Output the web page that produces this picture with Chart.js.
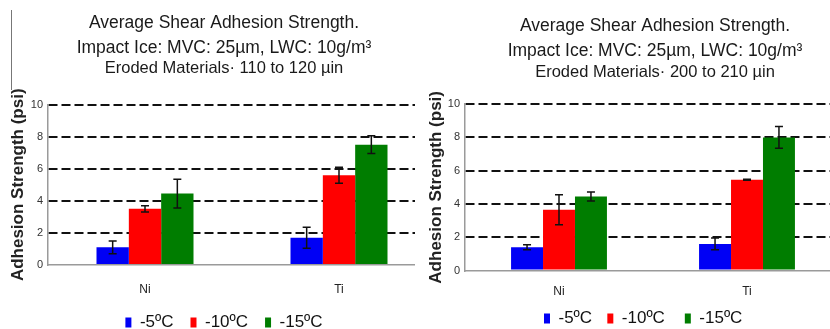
<!DOCTYPE html>
<html><head><meta charset="utf-8">
<script src="https://cdn.jsdelivr.net/npm/chart.js@4.4.0/dist/chart.umd.min.js"></script>
<style>
html,body{margin:0;padding:0;background:#fff;width:830px;height:329px;overflow:hidden;}
.panel{position:absolute;top:0;height:329px;overflow:hidden;}
#pl{left:0;width:415px;}
#pr{left:415px;width:415px;}
#mark{position:absolute;left:11px;top:10px;width:0;height:80px;border-left:1.5px solid #777;}
</style></head><body>
<div id="pl" class="panel"><canvas id="cl"></canvas></div>
<div id="pr" class="panel"><canvas id="cr"></canvas></div>
<div id="mark"></div>
<script>
// ---- data ----
const categories = ['Ni', 'Ti'];
const seriesLabels = ['-5ºC', '-10ºC', '-15ºC'];
const yTicks = [0, 2, 4, 6, 8, 10];
const titleLines = ['Average Shear Adhesion Strength.', 'Impact Ice: MVC: 25µm, LWC: 10g/m³'];
const leftSubtitle = 'Eroded Materials· 110 to 120 µin';
const rightSubtitle = 'Eroded Materials· 200 to 210 µin';
const yAxisTitle = 'Adhesion Strength (psi)';

// left panel: 110 to 120 µin
const left5 = [1.1, 1.7];
const left10 = [3.5, 5.6];
const left15 = [4.45, 7.5];
const left5Err = [0.4, 0.65];
const left10Err = [0.2, 0.5];
const left15Err = [0.9, 0.55];

// right panel: 200 to 210 µin
const right5 = [1.4, 1.6];
const right10 = [3.65, 5.45];
const right15 = [4.45, 8.0];
const right5Err = [0.15, 0.35];
const right10Err = [0.9, 0.03];
const right15Err = [0.27, 0.65];

const colors = ['#0000f5', '#ff0000', '#007d00'];
const FONT = "'Liberation Sans', Arial, sans-serif";

const errorBars = {
  id: 'errorBars',
  afterDatasetsDraw(chart) {
    const ctx = chart.ctx, y = chart.scales.y;
    ctx.save();
    ctx.strokeStyle = '#111';
    ctx.lineWidth = 1.5;
    chart.data.datasets.forEach((ds, i) => {
      const meta = chart.getDatasetMeta(i);
      meta.data.forEach((bar, j) => {
        const v = ds.data[j], e = ds.errors[j];
        const yt = y.getPixelForValue(v + e), yb = y.getPixelForValue(v - e);
        const x = bar.x, c = 4;
        ctx.beginPath();
        ctx.moveTo(x, yt); ctx.lineTo(x, yb);
        ctx.moveTo(x - c, yt); ctx.lineTo(x + c, yt);
        ctx.moveTo(x - c, yb); ctx.lineTo(x + c, yb);
        ctx.stroke();
      });
    });
    ctx.restore();
  }
};

function makeChart(id, p) {
  const cv = document.getElementById(id);
  cv.width = p.W; cv.height = p.H;
  cv.style.width = p.W + 'px'; cv.style.height = p.H + 'px';
  const sets = [p.s5, p.s10, p.s15];
  const errs = [p.e5, p.e10, p.e15];
  return new Chart(cv, {
    type: 'bar',
    data: {
      labels: categories,
      datasets: sets.map((d, i) => ({
        label: seriesLabels[i], data: d, errors: errs[i],
        backgroundColor: colors[i], borderWidth: 0,
        categoryPercentage: p.catPct, barPercentage: 1.0
      }))
    },
    options: {
      responsive: false, animation: false, devicePixelRatio: 1,
      layout: { padding: 0 },
      plugins: {
        title: {
          display: true, text: titleLines, color: '#1a1a1a',
          font: { family: FONT, size: 17.5, weight: 'normal', lineHeight: 1.45 },
          padding: { top: p.titleTop, bottom: 0 }
        },
        subtitle: {
          display: true, text: p.subtitle, color: '#1a1a1a',
          font: { family: FONT, size: 16.5, weight: 'normal', lineHeight: 1.2 },
          padding: { top: p.subTop, bottom: p.subBottom }
        },
        legend: {
          position: 'bottom',
          labels: {
            color: '#111', boxWidth: 6, boxHeight: 10, padding: p.legPad,
            font: { family: FONT, size: 17 },
            generateLabels(chart) {
              const items = Chart.defaults.plugins.legend.labels.generateLabels(chart);
              items.forEach((it, k) => { it.text += '\u00a0'.repeat(p.legSpaces[k]); });
              return items;
            }
          }
        },
        tooltip: { enabled: false }
      },
      scales: {
        x: {
          grid: { display: false, drawTicks: false },
          border: { display: true, color: '#9a9a9a', width: 1.5 },
          ticks: { color: '#222', font: { family: FONT, size: 12 }, padding: p.xPad },
          afterFit: s => { s.height = p.xH; }
        },
        y: {
          min: 0, max: 10,
          afterBuildTicks: s => { s.ticks = yTicks.map(v => ({ value: v })); },
          grid: {
            color: c => (c.tick && c.tick.value === 0) ? 'rgba(0,0,0,0)' : '#111',
            lineWidth: 2, drawTicks: false
          },
          border: { display: true, color: '#9a9a9a', width: 1.5, dash: [9, 4] },
          ticks: { color: '#333', font: { family: FONT, size: 11 }, padding: 5 },
          title: {
            display: true, text: yAxisTitle, color: '#222',
            font: { family: FONT, size: 17, weight: 'bold' },
            padding: { top: p.yTitlePad, bottom: 0 }
          },
          afterFit: s => { s.width = p.yW; }
        },
        sp: {
          type: 'linear', position: 'right', display: true,
          grid: { display: false, drawTicks: false },
          border: { display: false },
          ticks: { display: false },
          afterFit: s => { s.width = p.spW; }
        }
      }
    },
    plugins: [errorBars]
  });
}

makeChart('cl', {
  W: 448, H: 341, subtitle: leftSubtitle,
  s5: left5, s10: left10, s15: left15, e5: left5Err, e10: left10Err, e15: left15Err,
  catPct: 0.5, titleTop: 10, subTop: -2.4, subBottom: 26.4,
  xH: 32, xPad: 17, yW: 48, spW: 12, yTitlePad: 8.4,
  legPad: 17, legSpaces: [0, 0, 0]
});
makeChart('cr', {
  W: 480, H: 337, subtitle: rightSubtitle,
  s5: right5, s10: right10, s15: right15, e5: right5Err, e10: right10Err, e15: right15Err,
  catPct: 0.51, titleTop: 13, subTop: -1.4, subBottom: 22,
  xH: 29, xPad: 14, yW: 50, spW: 54, yTitlePad: 11.4,
  legPad: 10.5, legSpaces: [1, 2, 5]
});
</script>
</body></html>
